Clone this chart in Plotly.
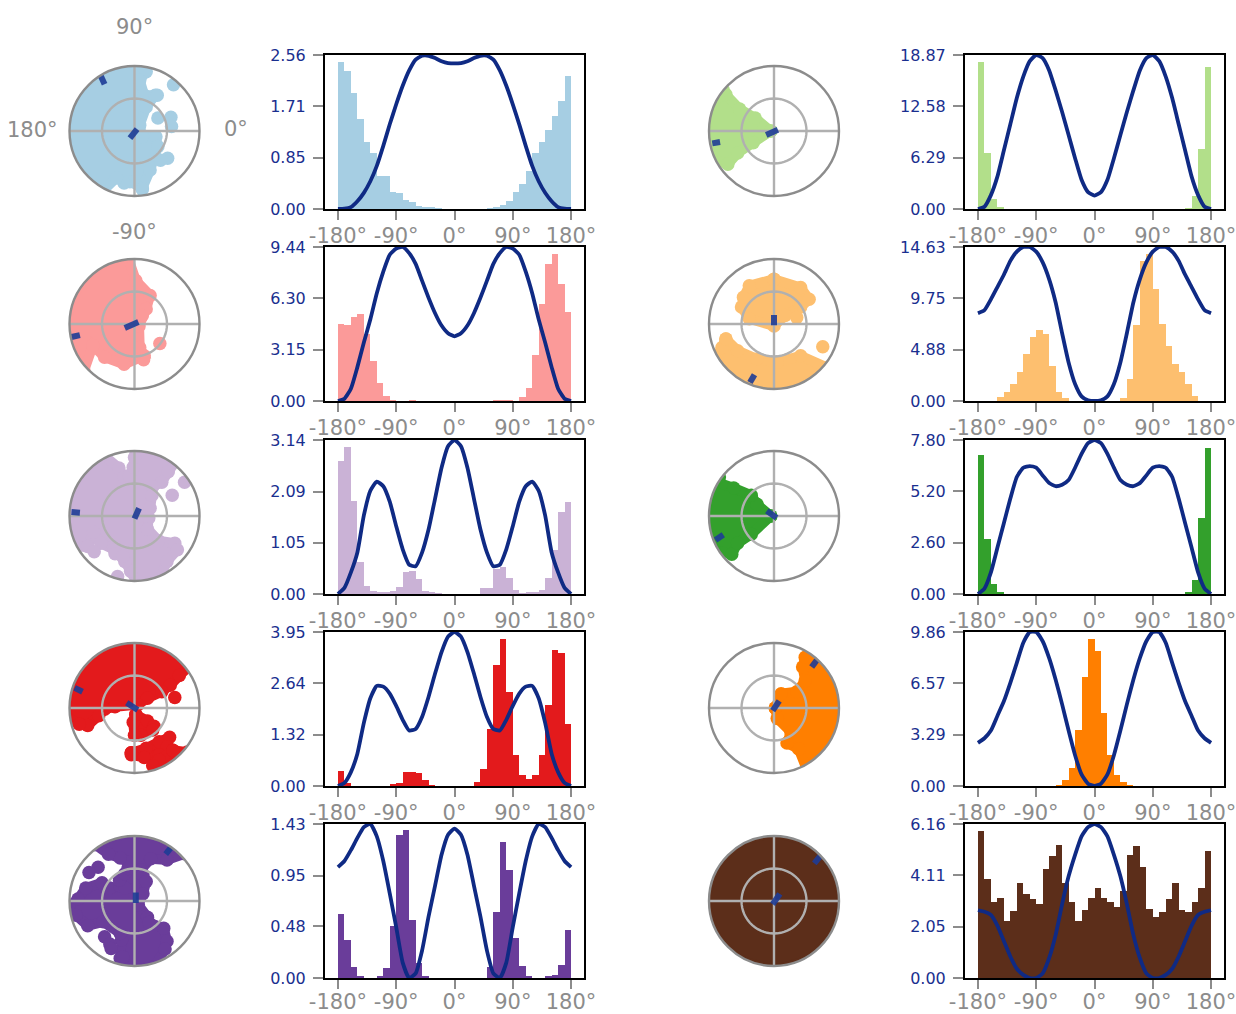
import numpy as np
import plotly.graph_objects as go

# ---------- colours ----------
COLORS = ["#a6cee3", "#fb9a99", "#cab2d6", "#e31a1c", "#6a3d9a",
          "#b2df8a", "#fdbf6f", "#33a02c", "#ff7f00", "#5c2e1a"]
LINE_COLOR = "#0f2a84"
GRAY = "#8c8c8c"

TICK_ANGLES = [-180, -90, 0, 90, 180]
TICK_TEXT = ["-180°", "-90°", "0°", "90°", "180°"]
BIN_CENTERS = list(range(-175, 180, 10))
LINE_ANGLES = list(range(-180, 181, 10))

# ---------- y tick labels ----------
YTICKS_1 = [0.00, 0.85, 1.71, 2.56]
YTICKS_2 = [0.00, 3.15, 6.30, 9.44]
YTICKS_3 = [0.00, 1.05, 2.09, 3.14]
YTICKS_4 = [0.00, 1.32, 2.64, 3.95]
YTICKS_5 = [0.00, 0.48, 0.95, 1.43]
YTICKS_6 = [0.00, 6.29, 12.58, 18.87]
YTICKS_7 = [0.00, 4.88, 9.75, 14.63]
YTICKS_8 = [0.00, 2.60, 5.20, 7.80]
YTICKS_9 = [0.00, 3.29, 6.57, 9.86]
YTICKS_10 = [0.00, 2.05, 4.11, 6.16]

# ---------- histogram heights (36 bins of 10 deg) ----------
HIST_1 = [2.44,2.30,1.93,1.50,1.11,.93,.55,.55,.29,.26,.155,.11,.044,.03,.017,.01,0,0,0,0,0,0,0,
          .01,.03,.07,.14,.29,.42,.63,.93,1.12,1.31,1.55,1.79,2.21]
HIST_2 = [4.70,4.64,5.15,5.36,4.12,2.47,1.13,.31,.04,0,0,.02,0,0,0,0,0,0,0,0,0,0,0,0,.02,.03,.04,
          0,.25,.82,2.84,5.92,8.41,9.03,7.17,5.46]
HIST_3 = [2.72,2.99,1.89,.66,.17,.07,.03,.04,.07,.15,.44,.47,.30,.07,.03,.01,0,0,0,0,0,0,
          .12,.13,.52,.56,.32,.09,.02,.05,.04,.09,.32,.90,1.67,1.87]
HIST_4 = [.38,.08,0,0,0,0,0,0,.03,.07,.36,.36,.34,.15,.02,0,0,0,0,0,0,.10,.43,1.45,3.10,3.77,2.41,
          .80,.29,.19,.27,.79,2.07,3.50,3.41,1.60]
HIST_5 = [.59,.35,.10,.02,0,0,.01,.09,.48,1.33,1.37,.54,.14,.01,0,0,0,0,0,0,0,0,0,.10,.61,1.26,1.00,
          .37,.11,.02,0,0,.01,.03,.12,.45]
HIST_6 = [17.97,6.90,1.18,.16,0,0,0,0,0,0,0,0,0,0,0,0,0,0,0,0,0,0,0,0,0,0,0,0,0,0,0,0,.12,1.59,7.39,17.44]
HIST_7 = [0,0,0,.38,.89,1.60,2.78,4.47,6.07,6.77,6.39,3.35,.89,.32,0,0,0,0,0,0,0,0,.32,2.08,7.19,
          13.32,13.99,10.6,7.35,5.27,3.51,2.72,1.60,.48,0,0]
HIST_8 = [7.03,2.78,.52,.08,0,0,0,0,0,0,0,0,0,0,0,0,0,0,0,0,0,0,0,0,0,0,0,0,0,0,0,0,.08,.71,3.87,7.42]
HIST_9 = [0,0,0,0,0,0,0,0,0,0,0,0,.05,.36,1.16,3.56,6.95,9.42,8.67,4.65,2.01,.68,.24,.05,0,0,0,0,0,0,0,0,0,0,0,0]
HIST_10 = [5.89,3.95,3.03,3.19,2.28,2.69,3.80,3.38,3.18,2.98,4.37,4.87,5.32,3.80,3.04,2.27,2.71,3.19,
           3.60,3.22,3.03,2.86,3.48,4.94,5.29,4.44,2.77,2.43,2.66,3.18,3.79,2.74,2.66,3.04,3.60,5.08]

# ---------- curves: share of y max, read at 0,10,...,180 deg (same on both sides) ----------
CURVE_1 = [.945,.948,.96,.98,.995,.995,.97,.90,.80,.68,.55,.41,.28,.18,.105,.05,.012,.002,0]
CURVE_2 = [.42,.44,.49,.57,.67,.78,.89,.96,1.0,.99,.95,.84,.70,.53,.38,.22,.08,.015,0]
CURVE_3 = [1.0,.96,.82,.62,.42,.27,.18,.19,.29,.44,.60,.70,.73,.67,.51,.27,.14,.04,0]
CURVE_4 = [1.0,.97,.87,.73,.58,.45,.37,.36,.43,.52,.60,.645,.65,.57,.41,.21,.09,.02,0]
CURVE_5 = [.97,.93,.80,.60,.40,.18,.03,0,.10,.33,.55,.76,.92,1.0,.98,.91,.83,.76,.72]
CURVE_6 = [.087,.11,.19,.33,.48,.63,.77,.90,.98,1.0,.96,.86,.72,.55,.38,.21,.09,.015,0]
CURVE_7 = [0,.005,.03,.11,.25,.44,.64,.79,.90,.97,1.0,1.0,.97,.91,.82,.74,.66,.59,.57]
CURVE_8 = [1.0,.98,.91,.82,.74,.71,.70,.72,.77,.82,.83,.82,.76,.62,.46,.30,.14,.035,0]
CURVE_9 = [0,.015,.075,.20,.36,.53,.69,.83,.94,1.0,1.0,.93,.80,.67,.55,.455,.36,.31,.28]
CURVE_10 = [1.0,.98,.92,.80,.66,.48,.28,.13,.03,0,0,.02,.06,.14,.24,.34,.41,.43,.44]

# ---------- polar clouds: outlines and stray points as (x, y) components, |v| <= 1 ----------
BLOB_1 = [(.02,.98),(.18,.91),(.08,.78),(.15,.55),(.32,.55),(.18,.37),(.08,.09),(.12,-.09),(.33,-.09),
          (.36,-.24),(.24,-.6),(.12,-.88),(-.07,-.78),(-.16,-.80),(-.28,-.72),(-.46,-.86),(-.65,-.74),(-.85,-.5),
          (-.97,-.2),(-.97,.15),(-.85,.5),(-.6,.78),(-.3,.93)]
LOOSE_1 = [(.36,.2),(.56,.21),(.57,.07),(.6,.71),(.51,-.42),(.40,-.45),(.35,.55),(.12,-.90)]
BLOB_2 = [(-.1,.95),(.02,.67),(.24,.44),(.18,.23),(.07,-.03),(.08,-.36),(.15,-.49),(-.16,-.62),(-.46,-.51),
          (-.64,-.33),(-.69,-.64),(-.85,-.5),(-.97,-.2),(-.97,.15),(-.85,.5),(-.6,.78),(-.3,.9)]
LOOSE_2 = [(.39,-.3),(.12,.13),(.14,-.55)]
BLOB_3 = [(0,.98),(.3,.93),(.59,.78),(.52,.68),(.42,.52),(.28,.45),(.27,.32),(.24,.12),(.12,.0),(.22,-.03),(.2,-.2),
          (.37,-.38),(.62,-.42),(.66,-.52),(.5,-.7),(.33,-.88),(.05,-.98),(-.06,-.85),(-.15,-.7),(-.31,-.52),(-.52,-.42),
          (-.63,-.25),(-.72,-.47),(-.88,-.45),(-.97,-.2),(-.97,.15),(-.85,.5),(-.6,.78),(-.44,.86),(-.24,.74),(-.16,.6),
          (-.08,.62),(-.02,.75),(0,.9)]
LOOSE_3 = [(.77,.52),(.58,.32),(-.62,-.55),(-.26,-.93),(-.3,-.58),(-.18,-.62)]
BLOB_4 = [(.79,.6),(.69,.5),(.55,.35),(.42,.25),(.2,.15),(.05,.05),(-.3,.02),(-.46,-.02),(-.55,-.12),(-.72,-.27),(-.85,-.25),
          (-.97,-.12),(-.97,.15),(-.85,.5),(-.6,.78),(-.3,.93),(0,.98),(.3,.93),(.55,.8),None,
          (.02,-.1),(.2,-.2),(.3,-.28),(.28,-.34),(.1,-.42),(0,-.42),(-.02,-.22),None,
          (-.05,-.69),(.18,-.62),(.38,-.52),(.54,-.45),(.5,-.6),(.38,-.72),(.15,-.76),(-.05,-.72),None,
          (.59,-.65),(.72,-.6),(.45,-.84),(.38,-.8)]
LOOSE_4 = [(.62,.16),(.28,-.89)]
BLOB_5 = [(-.56,.8),(-.2,.97),(.2,.97),(.5,.86),(.69,.65),(.5,.63),(.25,.65),(.1,.48),(.13,.4),(.18,.3),(.13,.11),(.06,-.06),
          (.2,-.25),(.22,-.33),(.45,-.42),(.5,-.62),(.47,-.74),(.28,-.94),(.05,-.98),(-.1,-.95),(-.22,-.88),(-.2,-.6),(-.22,-.5),
          (-.48,-.32),(-.72,-.38),(-.9,-.22),(-.97,-.1),(-.87,.03),(-.75,.2),(-.5,.28),(-.38,.2),(-.22,.23),(-.14,.2),(-.23,.32),
          (-.15,.42),(-.1,.5),(-.1,.6),(-.22,.66),(-.4,.72)]
LOOSE_5 = [(-.56,.52),(-.7,.44),(-.46,-.55),(-.38,-.66),(-.36,-.73),(-.18,-.86)]
BLOB_6 = [(-.05,0),(-.29,.2),(-.53,.34),(-.74,.56),(-.93,.44),(-.98,0),(-.93,-.3),(-.87,-.38),(-.71,-.51),(-.56,-.34),(-.32,-.18)]
LOOSE_6 = [(-.78,.63)]
BLOB_7 = [(0,.69),(.41,.56),(.54,.38),(.41,.26),(.17,.13),(0,-.03),(-.38,.08),(-.5,.26),(-.47,.41),(-.38,.59),None,
          (-.74,-.23),(-.56,-.41),(-.26,-.54),(.05,-.59),(.41,-.49),(.72,-.59),(.5,-.84),(.2,-.96),(-.2,-.96),(-.5,-.85),
          (-.85,-.5),(-.8,-.36)]
LOOSE_7 = [(.75,-.35),(.35,.1)]
BLOB_8 = [(-.05,0),(-.26,.18),(-.35,.32),(-.62,.43),(-.84,.49),(-.95,.3),(-.98,0),(-.93,-.3),(-.84,-.47),(-.65,-.59),(-.56,-.42),(-.35,-.28)]
LOOSE_8 = [(-.84,.6)]
BLOB_9 = [(.02,0),(.11,.22),(.35,.25),(.48,.42),(.44,.63),(.48,.78),(.66,.71),(.85,.5),(.97,.2),(.97,-.15),(.85,-.5),(.6,-.78),
          (.45,-.84),(.38,-.63),(.2,-.54),(.26,-.37),(.05,-.16)]
LOOSE_9 = []
BLOB_10 = [(.98,0),(.85,.49),(.49,.85),(0,.98),(-.49,.85),(-.85,.49),(-.98,0),(-.85,-.49),(-.49,-.85),(0,-.98),(.49,-.85),(.85,-.49)]
LOOSE_10 = []

# ---------- dark dashes: start/end of the centre dash and of the rim dash ----------
CENTER_1 = [(-.07,-.11),(.04,.03)];   RIM_1 = [(-.52,.85),(-.46,.72)]
CENTER_2 = [(-.15,-.06),(.06,.03)];   RIM_2 = [(-.97,-.2),(-.84,-.17)]
CENTER_3 = [(0,-.04),(.07,.12)];      RIM_3 = [(-.97,.06),(-.84,.05)]
CENTER_4 = [(-.12,.08),(.05,-.03)];   RIM_4 = [(-.92,.31),(-.8,.25)]
CENTER_5 = [(.02,.13),(.02,-.03)];    RIM_5 = [(.48,.72),(.56,.82)]
CENTER_6 = [(-.12,-.06),(.06,.02)];   RIM_6 = [(-.95,-.19),(-.83,-.17)]
CENTER_7 = [(0,.14),(0,-.02)];        RIM_7 = [(-.37,-.9),(-.3,-.78)]
CENTER_8 = [(-.11,.08),(.04,-.03)];   RIM_8 = [(-.9,-.37),(-.78,-.29)]
CENTER_9 = [(-.02,-.04),(.08,.11)];   RIM_9 = [(.58,.63),(.66,.74)]
CENTER_10 = [(-.02,-.05),(.09,.11)];  RIM_10 = [(.62,.58),(.71,.69)]

RING_THETA = list(range(0, 361, 6))
RING_R = [0.5] * len(RING_THETA)

HISTS = [HIST_1,HIST_2,HIST_3,HIST_4,HIST_5,HIST_6,HIST_7,HIST_8,HIST_9,HIST_10]
CURVES = [CURVE_1,CURVE_2,CURVE_3,CURVE_4,CURVE_5,CURVE_6,CURVE_7,CURVE_8,CURVE_9,CURVE_10]
YTICKS = [YTICKS_1,YTICKS_2,YTICKS_3,YTICKS_4,YTICKS_5,YTICKS_6,YTICKS_7,YTICKS_8,YTICKS_9,YTICKS_10]
BLOBS = [BLOB_1,BLOB_2,BLOB_3,BLOB_4,BLOB_5,BLOB_6,BLOB_7,BLOB_8,BLOB_9,BLOB_10]
LOOSE = [LOOSE_1,LOOSE_2,LOOSE_3,LOOSE_4,LOOSE_5,LOOSE_6,LOOSE_7,LOOSE_8,LOOSE_9,LOOSE_10]
CENTERS = [CENTER_1,CENTER_2,CENTER_3,CENTER_4,CENTER_5,CENTER_6,CENTER_7,CENTER_8,CENTER_9,CENTER_10]
RIMS = [RIM_1,RIM_2,RIM_3,RIM_4,RIM_5,RIM_6,RIM_7,RIM_8,RIM_9,RIM_10]

W, H = 1236, 1014
AX_TOP = [55, 247, 440, 632, 824]
AX_H = 154
AX_LEFT = [325, 965]
AX_W = 259
POL_CY = [131, 324, 516, 708, 901]
POL_CX = [134.5, 774]
POL_R = 65


def to_polar(pts, push=False):
    r, t = [], []
    for p in pts:
        v = float(np.hypot(*p))
        r.append(1.06 if push and v > 0.93 else v)
        t.append(float(np.degrees(np.arctan2(p[1], p[0]))))
    return r, t


def split_outlines(pts):
    parts, cur = [], []
    for p in pts:
        if p is None:
            parts.append(cur); cur = []
        else:
            cur.append(p)
    parts.append(cur)
    return parts


fig = go.Figure()
layout = {}
GRID = dict(color="#b0b0b0", width=2.4)
for i in range(10):
    col, row = i // 5, i % 5
    n = str(i + 1) if i else ""
    color = COLORS[i]
    ymax = YTICKS[i][-1]
    fig.add_trace(go.Bar(x=BIN_CENTERS, y=HISTS[i], width=10, marker=dict(color=color, line=dict(width=0)),
                         xaxis="x" + n, yaxis="y" + n, showlegend=False, hoverinfo="skip"))
    half = [v * ymax for v in CURVES[i]]
    full = half[:0:-1] + half
    fig.add_trace(go.Scatter(x=LINE_ANGLES, y=full, mode="lines",
                             line=dict(color=LINE_COLOR, width=3.8, shape="spline", smoothing=0.5),
                             xaxis="x" + n, yaxis="y" + n, showlegend=False, hoverinfo="skip"))
    layout["xaxis" + n] = dict(
        domain=[AX_LEFT[col] / W, (AX_LEFT[col] + AX_W) / W], range=[-200, 200], anchor="y" + n, automargin=False,
        tickvals=TICK_ANGLES, ticktext=TICK_TEXT, tickfont=dict(family="DejaVu Sans", size=21, color=GRAY),
        ticks="outside", ticklen=9, tickwidth=1.5, tickcolor=GRAY, showgrid=False, zeroline=False,
        showline=True, linecolor="black", linewidth=2, mirror=True, tickangle=0,
        ticklabeloverflow="allow", ticklabelstandoff=-5 if row == 4 else -2)
    layout["yaxis" + n] = dict(
        domain=[1 - (AX_TOP[row] + AX_H) / H, 1 - AX_TOP[row] / H], range=[0, ymax], anchor="x" + n, automargin=False,
        tickvals=YTICKS[i], ticktext=[f"{v:.2f}" for v in YTICKS[i]],
        tickfont=dict(family="DejaVu Sans", size=16, color="#1a2f8f"),
        ticks="outside", ticklen=10, tickwidth=1.5, tickcolor=GRAY, showgrid=False, zeroline=False,
        showline=True, linecolor="black", linewidth=2, mirror=True, ticklabelstandoff=4, ticklabeloverflow="allow")
    sp = "polar" + n
    cx, cy = POL_CX[col], POL_CY[row]
    layout[sp] = dict(
        domain=dict(x=[(cx - POL_R) / W, (cx + POL_R) / W], y=[1 - (cy + POL_R) / H, 1 - (cy - POL_R) / H]),
        bgcolor="white",
        radialaxis=dict(range=[0, 1], visible=False),
        angularaxis=dict(showgrid=False, showticklabels=False, ticks="", showline=True,
                         linecolor=GRAY, linewidth=2.4))
    for part in split_outlines(BLOBS[i]):
        r, t = to_polar(part + part[:1], push=True)
        fig.add_trace(go.Scatterpolar(r=r, theta=t, subplot=sp, mode="lines+markers", fill="toself", fillcolor=color,
                                      line=dict(color=color, width=10), marker=dict(color=color, size=13.5),
                                      cliponaxis=True, showlegend=False, hoverinfo="skip"))
    if LOOSE[i]:
        r, t = to_polar(LOOSE[i])
        fig.add_trace(go.Scatterpolar(r=r, theta=t, subplot=sp, mode="markers", marker=dict(color=color, size=13.5),
                                      cliponaxis=True, showlegend=False, hoverinfo="skip"))
    fig.add_trace(go.Scatterpolar(r=[1, 0, 1], theta=[0, 0, 180], subplot=sp, mode="lines",
                                  line=GRID, showlegend=False, hoverinfo="skip"))
    fig.add_trace(go.Scatterpolar(r=[1, 0, 1], theta=[90, 0, 270], subplot=sp, mode="lines",
                                  line=GRID, showlegend=False, hoverinfo="skip"))
    fig.add_trace(go.Scatterpolar(r=RING_R, theta=RING_THETA, subplot=sp, mode="lines",
                                  line=GRID, showlegend=False, hoverinfo="skip"))
    for seg in (CENTERS[i], RIMS[i]):
        r, t = to_polar(seg)
        fig.add_trace(go.Scatterpolar(r=r, theta=t, subplot=sp, mode="lines",
                                      line=dict(color="rgba(30,60,150,0.9)", width=6), showlegend=False, hoverinfo="skip"))

labels = [("90°", 134, 27), ("180°", 32, 130), ("0°", 236, 129), ("-90°", 134, 232)]
anns = [dict(text=s, x=px / W, y=1 - py / H, xref="paper", yref="paper", showarrow=False,
             xanchor="center", yanchor="middle", font=dict(family="DejaVu Sans", size=21, color=GRAY))
        for s, px, py in labels]

fig.update_layout(width=W, height=H, margin=dict(l=0, r=0, t=0, b=0), paper_bgcolor="white",
                  plot_bgcolor="white", showlegend=False, bargap=0, annotations=anns, **layout)
fig.write_html("out.html", config={"displayModeBar": False}, post_script="document.body.style.margin='0';")
